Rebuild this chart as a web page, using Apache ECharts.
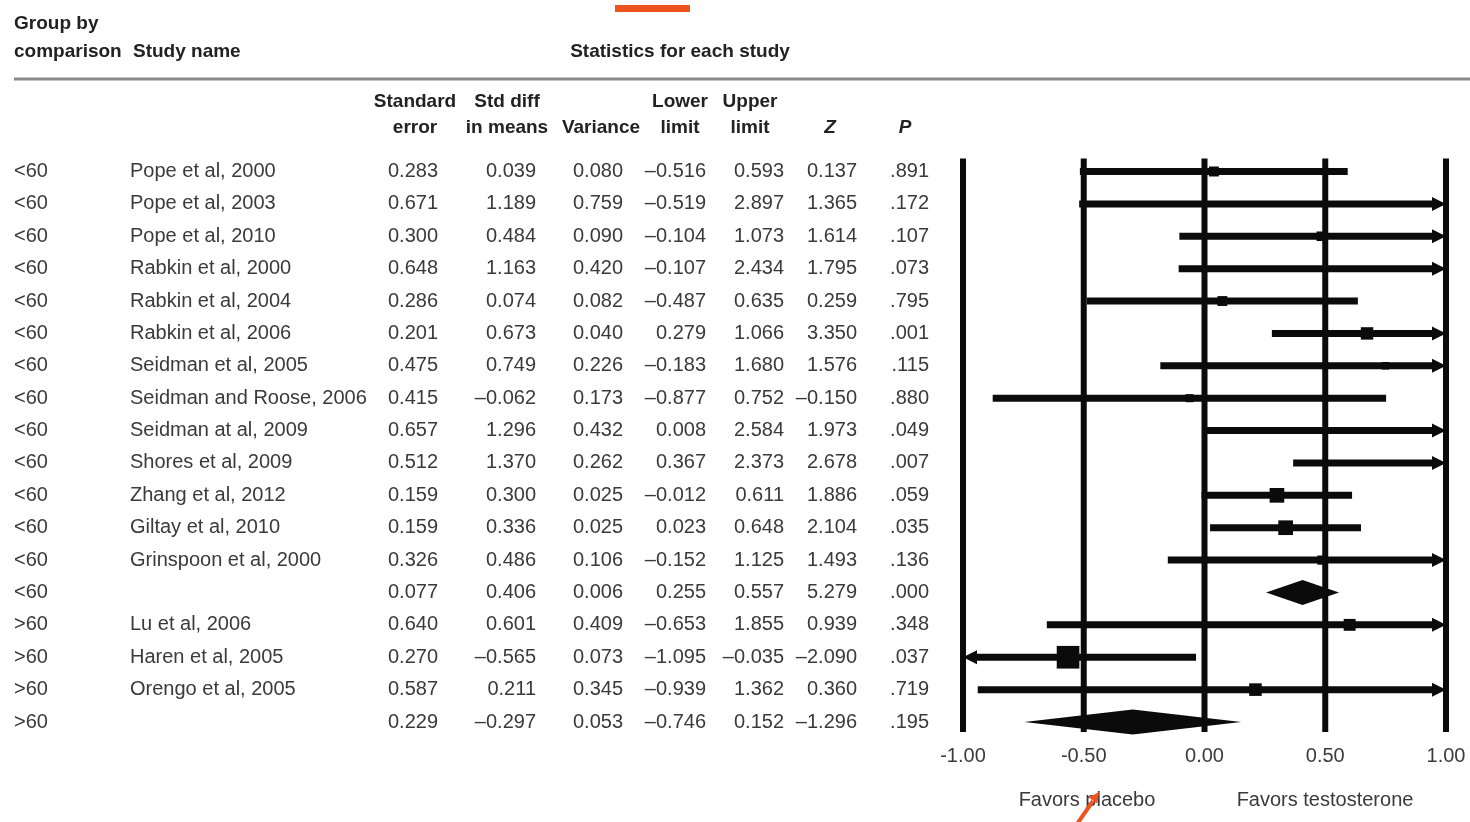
<!DOCTYPE html>
<html>
<head>
<meta charset="utf-8">
<title>Forest plot – testosterone vs placebo by age group</title>
<script src="https://cdn.jsdelivr.net/npm/echarts@6/dist/echarts.min.js"></script>
<style>
  html, body { margin: 0; padding: 0; background: #ffffff; }
  #chart { width: 1470px; height: 822px; }
</style>
</head>
<body>
<div id="chart"></div>
<script>
// ---- Study table ----
const groups = ['<60', '<60', '<60', '<60', '<60', '<60', '<60', '<60', '<60', '<60', '<60', '<60', '<60', '<60',
                '>60', '>60', '>60', '>60'];
const studyNames = ['Pope et al, 2000', 'Pope et al, 2003', 'Pope et al, 2010', 'Rabkin et al, 2000',
                    'Rabkin et al, 2004', 'Rabkin et al, 2006', 'Seidman et al, 2005', 'Seidman and Roose, 2006',
                    'Seidman at al, 2009', 'Shores et al, 2009', 'Zhang et al, 2012', 'Giltay et al, 2010',
                    'Grinspoon et al, 2000', '', 'Lu et al, 2006', 'Haren et al, 2005', 'Orengo et al, 2005', ''];
const stdError   = [0.283, 0.671, 0.300, 0.648, 0.286, 0.201, 0.475, 0.415, 0.657, 0.512, 0.159, 0.159, 0.326, 0.077,
                    0.640, 0.270, 0.587, 0.229];
const stdDiff    = [0.039, 1.189, 0.484, 1.163, 0.074, 0.673, 0.749, -0.062, 1.296, 1.370, 0.300, 0.336, 0.486, 0.406,
                    0.601, -0.565, 0.211, -0.297];
const variance   = [0.080, 0.759, 0.090, 0.420, 0.082, 0.040, 0.226, 0.173, 0.432, 0.262, 0.025, 0.025, 0.106, 0.006,
                    0.409, 0.073, 0.345, 0.053];
const lowerLimit = [-0.516, -0.519, -0.104, -0.107, -0.487, 0.279, -0.183, -0.877, 0.008, 0.367, -0.012, 0.023, -0.152, 0.255,
                    -0.653, -1.095, -0.939, -0.746];
const upperLimit = [0.593, 2.897, 1.073, 2.434, 0.635, 1.066, 1.680, 0.752, 2.584, 2.373, 0.611, 0.648, 1.125, 0.557,
                    1.855, -0.035, 1.362, 0.152];
const zValue     = [0.137, 1.365, 1.614, 1.795, 0.259, 3.350, 1.576, -0.150, 1.973, 2.678, 1.886, 2.104, 1.493, 5.279,
                    0.939, -2.090, 0.360, -1.296];
const pValue     = [0.891, 0.172, 0.107, 0.073, 0.795, 0.001, 0.115, 0.880, 0.049, 0.007, 0.059, 0.035, 0.136, 0.000,
                    0.348, 0.037, 0.719, 0.195];
const axisTicks  = [-1, -0.5, 0, 0.5, 1];

// ---- Derived helpers ----
const FONT = "'Liberation Sans', Arial, Helvetica, sans-serif";
const TEXT = '#3a3a3a';
const INK = '#0b0b0b';
const rowIds = studyNames.map((_, i) => String(i));
const fmt3 = v => v.toFixed(3).replace('-', '\u2013');
const fmtP = v => v.toFixed(3).replace(/^0/, '');

// relative inverse-variance weight of each study inside its own age group
const groupWeightSum = {};
studyNames.forEach((n, i) => {
  if (n) groupWeightSum[groups[i]] = (groupWeightSum[groups[i]] || 0) + 1 / variance[i];
});
const forestData = studyNames.map((n, i) => {
  const share = n ? (1 / variance[i]) / groupWeightSum[groups[i]] : 0;
  return [i, lowerLimit[i], upperLimit[i], stdDiff[i], share, n ? 0 : 1];
});

// ---- Layout ----
const GRID_LEFT = 963;
const GRID_RIGHT = 24;

function columnAxis(values, edgeX, align) {
  return {
    type: 'category', gridIndex: 0, inverse: true, position: 'left',
    offset: GRID_LEFT - edgeX,
    data: values,
    axisLine: { show: false }, axisTick: { show: false }, splitLine: { show: false },
    axisLabel: { show: true, interval: 0, margin: 0, align: align, fontSize: 20, fontFamily: FONT, color: TEXT }
  };
}

const chart = echarts.init(document.getElementById('chart'), null, { renderer: 'canvas' });

function headerText(text, x, y, align, bold) {
  return {
    type: 'text', x: x, y: y, silent: true,
    style: {
      text: text, textAlign: align || 'center', textVerticalAlign: 'middle',
      font: (bold === false ? '' : 'bold ') + '19px ' + FONT, fill: '#222'
    }
  };
}

const option = {
  backgroundColor: '#ffffff',
  animation: false,
  grid: {
    left: GRID_LEFT, right: GRID_RIGHT, top: 155.3, bottom: 83.8,
    containLabel: false, outerBoundsMode: 'none'
  },
  xAxis: {
    type: 'value', min: -1, max: 1, interval: 0.5,
    axisLine: { show: false }, axisTick: { show: false }, splitLine: { show: false },
    axisLabel: {
      margin: 8, fontSize: 20, fontFamily: FONT, color: TEXT,
      formatter: v => v.toFixed(2)
    }
  },
  yAxis: [
    {
      type: 'category', gridIndex: 0, inverse: true, data: rowIds,
      axisLine: { show: false }, axisTick: { show: false },
      axisLabel: { show: false }, splitLine: { show: false }
    },
    columnAxis(groups, 14, 'left'),
    columnAxis(studyNames, 130, 'left'),
    columnAxis(stdError.map(fmt3), 438, 'right'),
    columnAxis(stdDiff.map(fmt3), 536, 'right'),
    columnAxis(variance.map(fmt3), 623, 'right'),
    columnAxis(lowerLimit.map(fmt3), 706, 'right'),
    columnAxis(upperLimit.map(fmt3), 784, 'right'),
    columnAxis(zValue.map(fmt3), 857, 'right'),
    columnAxis(pValue.map(fmtP), 929, 'right')
  ],
  series: [
    {
      // vertical reference lines at each axis tick
      type: 'custom', name: 'reference',
      data: axisTicks.map(v => [v]),
      encode: { x: 0 },
      renderItem: function (params, api) {
        const v = api.value(0);
        const x = api.coord([v, 0])[0];
        const y0 = api.coord([v, 0])[1] - 13;
        const y1 = api.coord([v, rowIds.length - 1])[1] + 10;
        return {
          type: 'line',
          shape: { x1: x, y1: y0, x2: x, y2: y1 },
          style: { stroke: INK, lineWidth: 6 }
        };
      }
    },
    {
      // confidence intervals, point estimates and pooled diamonds
      type: 'custom', name: 'studies',
      data: forestData,
      encode: { x: [1, 2, 3], y: 0 },
      renderItem: function (params, api) {
        const row = api.value(0);
        const lo = api.value(1), hi = api.value(2), m = api.value(3);
        const share = api.value(4), isPooled = api.value(5) === 1;
        const px = v => api.coord([v, row])[0];
        const y = api.coord([0, row])[1];
        const children = [];
        if (isPooled) {
          const h = 12.5;
          children.push({
            type: 'polygon',
            shape: { points: [[px(lo), y], [px(m), y - h], [px(hi), y], [px(m), y + h]] },
            style: { fill: INK }
          });
          return { type: 'group', children: children };
        }
        const headLen = 14, headHalf = 7;
        const leftOut = lo < -1, rightOut = hi > 1;
        const xl = px(Math.max(lo, -1));
        const xr = px(Math.min(hi, 1));
        children.push({
          type: 'line',
          shape: { x1: xl + (leftOut ? headLen - 2 : 0), y1: y, x2: xr - (rightOut ? headLen - 2 : 0), y2: y },
          style: { stroke: INK, lineWidth: 7 }
        });
        if (rightOut) {
          children.push({
            type: 'polygon',
            shape: { points: [[xr, y], [xr - headLen, y - headHalf], [xr - headLen, y + headHalf]] },
            style: { fill: INK }
          });
        }
        if (leftOut) {
          children.push({
            type: 'polygon',
            shape: { points: [[xl, y], [xl + headLen, y - headHalf], [xl + headLen, y + headHalf]] },
            style: { fill: INK }
          });
        }
        if (m >= -1 && m <= 1) {
          const s = 4 + 22 * Math.sqrt(share);
          children.push({
            type: 'rect',
            shape: { x: px(m) - s / 2, y: y - s / 2, width: s, height: s },
            style: { fill: INK }
          });
        }
        return { type: 'group', children: children };
      }
    }
  ],
  graphic: [
    // orange accent bar at the top
    { type: 'rect', shape: { x: 615, y: 5, width: 75, height: 7 }, style: { fill: '#ee5420' }, silent: true },
    headerText('Group by', 14, 24, 'left'),
    headerText('comparison', 14, 52, 'left'),
    headerText('Study name', 133, 52, 'left'),
    headerText('Statistics for each study', 680, 52, 'center'),
    { type: 'line', shape: { x1: 14, y1: 79, x2: 1470, y2: 79 }, style: { stroke: '#8a8a8a', lineWidth: 3 }, silent: true },
    headerText('Standard', 415, 102), headerText('error', 415, 128),
    headerText('Std diff', 507, 102), headerText('in means', 507, 128),
    headerText('Variance', 601, 128),
    headerText('Lower', 680, 102), headerText('limit', 680, 128),
    headerText('Upper', 750, 102), headerText('limit', 750, 128),
    {
      type: 'text', x: 830, y: 128, silent: true,
      style: { text: 'Z', textAlign: 'center', textVerticalAlign: 'middle', font: 'italic bold 19px ' + FONT, fill: '#222' }
    },
    {
      type: 'text', x: 905, y: 128, silent: true,
      style: { text: 'P', textAlign: 'center', textVerticalAlign: 'middle', font: 'italic bold 19px ' + FONT, fill: '#222' }
    },
    {
      type: 'text', x: 1087, y: 800, silent: true,
      style: { text: 'Favors placebo', textAlign: 'center', textVerticalAlign: 'middle', font: '20px ' + FONT, fill: TEXT }
    },
    {
      type: 'text', x: 1325, y: 800, silent: true,
      style: { text: 'Favors testosterone', textAlign: 'center', textVerticalAlign: 'middle', font: '20px ' + FONT, fill: TEXT }
    },
    // orange pointer arrow
    { type: 'line', shape: { x1: 1077, y1: 824, x2: 1093, y2: 801 }, style: { stroke: '#ee5420', lineWidth: 4 }, silent: true },
    { type: 'polygon', shape: { points: [[1099, 792], [1097.4, 803.5], [1088.6, 797.4]] }, style: { fill: '#ee5420' }, silent: true }
  ]
};

chart.setOption(option);
</script>
</body>
</html>
